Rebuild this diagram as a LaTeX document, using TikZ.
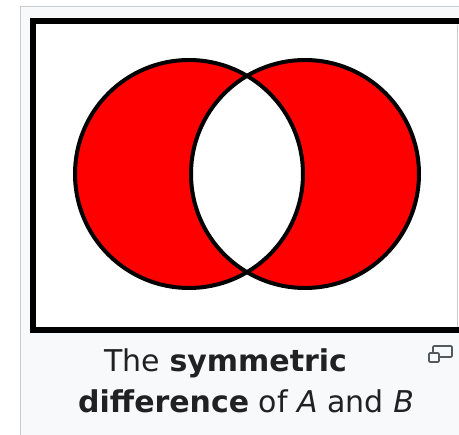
\documentclass[tikz,border=0pt]{standalone}
\usepackage{fontspec}
\setmainfont{DejaVu Sans}
\definecolor{panelbg}{HTML}{F8F9FA}
\definecolor{panelborder}{HTML}{C8CCD1}
\definecolor{captext}{HTML}{202122}
\definecolor{iconcol}{HTML}{54595D}
\definecolor{setred}{HTML}{FF0000}
\begin{document}
\begin{tikzpicture}[x=1pt,y=-1pt,
  caption/.style={anchor=base west,inner sep=0pt,text=captext,font=\fontsize{30}{41}\selectfont},
  setcircle/.style={line width=4pt,draw=black}]
\useasboundingbox (0,0) rectangle (459,435);
% page background and thumbnail panel
\fill[white] (0,0) rectangle (459,435);
\filldraw[fill=panelbg,draw=panelborder,line width=1.2pt] (20.5,6.5) rectangle (470,450);
% image frame
\filldraw[fill=white,draw=black,line width=6pt] (33,21) rectangle (462,330);
\draw[panelborder,line width=1pt] (457,25) -- (457,327);
% symmetric difference: fill both circles red, clear the intersection
\fill[setred] (189,174) circle (114);
\fill[setred] (305,174) circle (114);
\begin{scope}
  \clip (189,174) circle (114);
  \fill[white] (305,174) circle (114);
\end{scope}
\node[setcircle,circle,minimum size=228pt,inner sep=0pt] (A) at (189,174) {};
\node[setcircle,circle,minimum size=228pt,inner sep=0pt] (B) at (305,174) {};
% caption
\node[caption] (cap1) at (104,372) {The \textbf{symmetric}};
\node[caption] (cap2) at (78,413) {\textbf{difference} of \textit{A} and \textit{B}};
% enlarge icon
\draw[iconcol,line width=1.6pt,rounded corners=1pt] (433,346) rectangle (452,357);
\filldraw[fill=panelbg,draw=iconcol,line width=1.6pt,rounded corners=1pt] (429,353) rectangle (439,362);
\end{tikzpicture}
\end{document}
